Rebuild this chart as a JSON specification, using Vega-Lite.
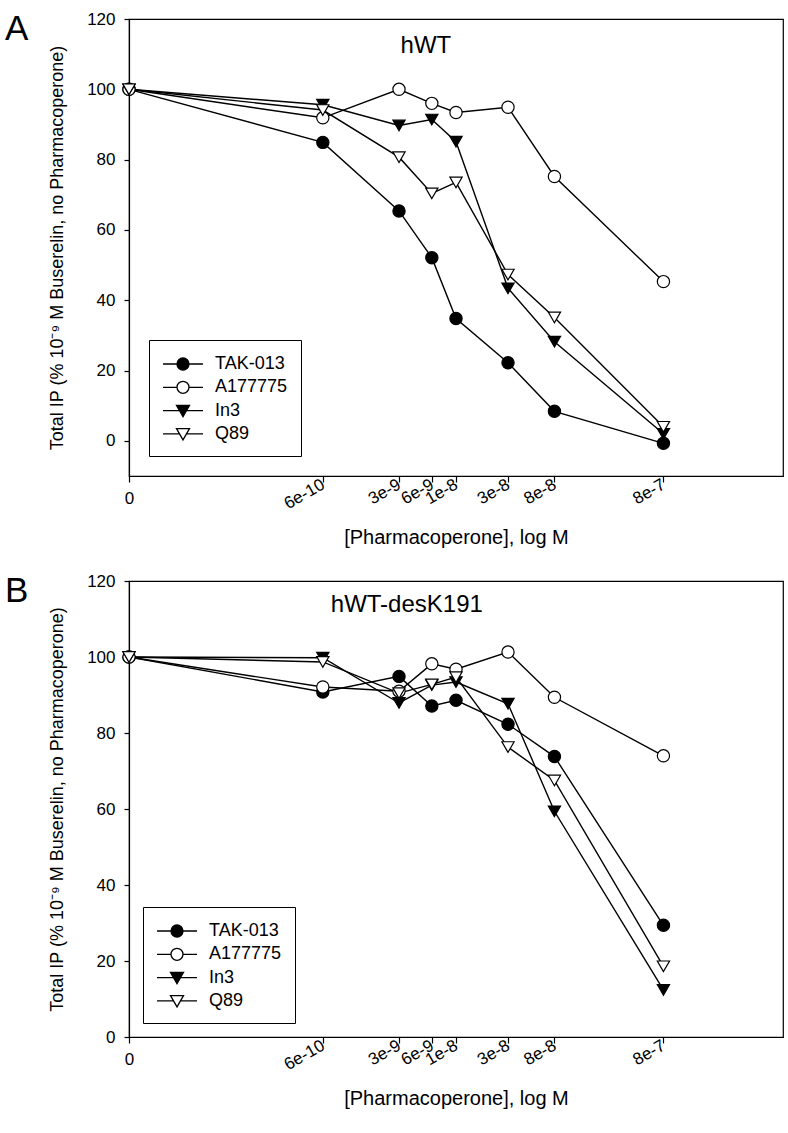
{
  "$schema": "https://vega.github.io/schema/vega-lite/v6.json",
  "padding": {"left": 4, "top": 9, "right": 5, "bottom": 5},
  "background": "white",
  "config": {
    "font": "Liberation Sans",
    "view": {"stroke": "black", "strokeWidth": 1.2},
    "axis": {"domainColor": "black", "tickColor": "black", "labelColor": "black", "titleColor": "black", "grid": false, "titleFontWeight": "normal", "domainWidth": 1.2, "tickWidth": 1.2},
    "title": {"fontWeight": "normal", "color": "black"},
    "concat": {"spacing": 22}
  },
  "datasets": {
    "hwt": [
      {"series": "TAK-013", "conc": 1e-11, "value": 100},
      {"series": "TAK-013", "conc": 6e-10, "value": 84.9},
      {"series": "TAK-013", "conc": 3e-9, "value": 65.4},
      {"series": "TAK-013", "conc": 6e-9, "value": 52.1},
      {"series": "TAK-013", "conc": 1e-8, "value": 34.8},
      {"series": "TAK-013", "conc": 3e-8, "value": 22.2},
      {"series": "TAK-013", "conc": 8e-8, "value": 8.4},
      {"series": "TAK-013", "conc": 8e-7, "value": -0.7},
      {"series": "A177775", "conc": 1e-11, "value": 100},
      {"series": "A177775", "conc": 6e-10, "value": 91.9},
      {"series": "A177775", "conc": 3e-9, "value": 100.0},
      {"series": "A177775", "conc": 6e-9, "value": 96.0},
      {"series": "A177775", "conc": 1e-8, "value": 93.4},
      {"series": "A177775", "conc": 3e-8, "value": 94.9},
      {"series": "A177775", "conc": 8e-8, "value": 75.2},
      {"series": "A177775", "conc": 8e-7, "value": 45.3},
      {"series": "In3", "conc": 1e-11, "value": 100},
      {"series": "In3", "conc": 6e-10, "value": 95.6},
      {"series": "In3", "conc": 3e-9, "value": 89.7},
      {"series": "In3", "conc": 6e-9, "value": 91.4},
      {"series": "In3", "conc": 1e-8, "value": 85.1},
      {"series": "In3", "conc": 3e-8, "value": 43.4},
      {"series": "In3", "conc": 8e-8, "value": 28.2},
      {"series": "In3", "conc": 8e-7, "value": 2.0},
      {"series": "Q89", "conc": 1e-11, "value": 100},
      {"series": "Q89", "conc": 6e-10, "value": 94.1},
      {"series": "Q89", "conc": 3e-9, "value": 80.7},
      {"series": "Q89", "conc": 6e-9, "value": 70.4},
      {"series": "Q89", "conc": 1e-8, "value": 73.5},
      {"series": "Q89", "conc": 3e-8, "value": 47.3},
      {"series": "Q89", "conc": 8e-8, "value": 35.1},
      {"series": "Q89", "conc": 8e-7, "value": 4.0}
    ],
    "desk": [
      {"series": "TAK-013", "conc": 1e-11, "value": 100},
      {"series": "TAK-013", "conc": 6e-10, "value": 90.8},
      {"series": "TAK-013", "conc": 3e-9, "value": 94.9},
      {"series": "TAK-013", "conc": 6e-9, "value": 87.1},
      {"series": "TAK-013", "conc": 1e-8, "value": 88.6},
      {"series": "TAK-013", "conc": 3e-8, "value": 82.3},
      {"series": "TAK-013", "conc": 8e-8, "value": 73.8},
      {"series": "TAK-013", "conc": 8e-7, "value": 29.4},
      {"series": "A177775", "conc": 1e-11, "value": 100},
      {"series": "A177775", "conc": 6e-10, "value": 92.1},
      {"series": "A177775", "conc": 3e-9, "value": 91.0},
      {"series": "A177775", "conc": 6e-9, "value": 98.2},
      {"series": "A177775", "conc": 1e-8, "value": 96.8},
      {"series": "A177775", "conc": 3e-8, "value": 101.3},
      {"series": "A177775", "conc": 8e-8, "value": 89.4},
      {"series": "A177775", "conc": 8e-7, "value": 74.0},
      {"series": "In3", "conc": 1e-11, "value": 100},
      {"series": "In3", "conc": 6e-10, "value": 99.8},
      {"series": "In3", "conc": 3e-9, "value": 87.9},
      {"series": "In3", "conc": 6e-9, "value": 92.6},
      {"series": "In3", "conc": 1e-8, "value": 93.4},
      {"series": "In3", "conc": 3e-8, "value": 87.7},
      {"series": "In3", "conc": 8e-8, "value": 59.4},
      {"series": "In3", "conc": 8e-7, "value": 12.4},
      {"series": "Q89", "conc": 1e-11, "value": 100},
      {"series": "Q89", "conc": 6e-10, "value": 98.7},
      {"series": "Q89", "conc": 3e-9, "value": 90.5},
      {"series": "Q89", "conc": 6e-9, "value": 92.8},
      {"series": "Q89", "conc": 1e-8, "value": 94.7},
      {"series": "Q89", "conc": 3e-8, "value": 76.3},
      {"series": "Q89", "conc": 8e-8, "value": 67.5},
      {"series": "Q89", "conc": 8e-7, "value": 18.6}
    ]
  },
  "resolve": {
    "scale": {"x": "independent", "y": "independent", "shape": "independent", "fill": "independent"},
    "legend": {"shape": "independent", "fill": "independent"}
  },
  "vconcat": [
    {
      "width": 654,
      "height": 457,
      "title": {"text": "A", "anchor": "start", "frame": "group", "fontSize": 35, "baseline": "top", "offset": -37, "dx": -124},
      "layer": [
        {
          "data": {"name": "hwt"},
          "mark": {"type": "line", "color": "black", "strokeWidth": 1.4},
          "encoding": {
            "x": {
              "field": "conc", "type": "quantitative",
              "scale": {"type": "log", "domain": [1e-11, 1e-5], "nice": false},
              "axis": {
                "title": "[Pharmacoperone], log M",
                "values": [1e-11, 6e-10, 3e-9, 6e-9, 1e-8, 3e-8, 8e-8, 8e-7],
                "labelExpr": "datum.value < 1e-10 ? '0' : format(datum.value, '.0e')",
                "labelAngle": -30, "labelAlign": "right", "labelBaseline": "middle",
                "labelFlush": false, "labelOverlap": false,
                "tickSize": 6, "labelPadding": 1, "labelFontSize": 17,
                "titleFontSize": 20, "titlePadding": 16,
                "encoding": {"labels": {
                  "angle": {"condition": {"test": "datum.value < 1e-10", "value": 0}, "value": -30},
                  "align": {"condition": {"test": "datum.value < 1e-10", "value": "center"}, "value": "right"},
                  "dy": {"condition": {"test": "datum.value < 1e-10", "value": 15}, "value": 0}
                }}
              }
            },
            "y": {
              "field": "value", "type": "quantitative",
              "scale": {"domain": [-10, 120], "nice": false, "zero": false},
              "axis": {
                "title": "Total IP (% 10⁻⁹ M Buserelin, no Pharmacoperone)",
                "values": [0, 20, 40, 60, 80, 100, 120],
                "tickSize": 5, "labelFontSize": 17, "labelPadding": 9,
                "titleFontSize": 18, "titlePadding": 20
              }
            },
            "detail": {"field": "series", "type": "nominal"}
          }
        },
        {
          "data": {"name": "hwt"},
          "mark": {"type": "point", "filled": true, "opacity": 1, "stroke": "black", "strokeWidth": 1.2, "size": 150},
          "encoding": {
            "x": {"field": "conc", "type": "quantitative"},
            "y": {"field": "value", "type": "quantitative"},
            "shape": {
              "field": "series", "type": "nominal",
              "scale": {"domain": ["TAK-013", "A177775", "In3", "Q89", "_"], "range": ["circle", "circle", "triangle-down", "triangle-down", "circle"]},
              "legend": null
            },
            "fill": {
              "field": "series", "type": "nominal",
              "scale": {"domain": ["TAK-013", "A177775", "In3", "Q89"], "range": ["black", "white", "black", "white"]},
              "legend": {
                "title": null, "orient": "bottom-left", "offset": 20, "padding": 13, "symbolOffset": 10,
                "strokeColor": "black", "fillColor": "white",
                "labelFontSize": 18, "labelOffset": 21, "rowPadding": 3.3,
                "symbolSize": 400, "symbolStrokeWidth": 1.3, "symbolStrokeColor": "black",
                "encoding": {"symbols": {
                  "shape": {"condition": {"test": "datum.value === 'TAK-013' || datum.value === 'A177775'", "value": "M-2,0H-0.6M0.6,0H2M-0.6,0A0.6,0.6,0,1,1,0.6,0A0.6,0.6,0,1,1,-0.6,0Z"}, "value": "M-2,0H-0.35M0.35,0H2M-0.65,-0.52L0.65,-0.52L0,0.6Z"},
                  "fill": {"condition": {"test": "datum.value === 'TAK-013' || datum.value === 'In3'", "value": "black"}, "value": "white"},
                  "stroke": {"value": "black"}
                }}
              }
            }
          }
        },
        {
          "data": {"values": [{"label": "hWT"}]},
          "mark": {"type": "text", "align": "left", "baseline": "alphabetic", "fontSize": 24, "color": "black"},
          "encoding": {
            "x": {"datum": 3.1e-9, "type": "quantitative"},
            "y": {"datum": 110.2, "type": "quantitative"},
            "text": {"field": "label", "type": "nominal"}
          }
        }
      ]
    },
    {
      "width": 654,
      "height": 456,
      "title": {"text": "B", "anchor": "start", "frame": "group", "fontSize": 35, "baseline": "top", "offset": -37, "dx": -124},
      "layer": [
        {
          "data": {"name": "desk"},
          "mark": {"type": "line", "color": "black", "strokeWidth": 1.4},
          "encoding": {
            "x": {
              "field": "conc", "type": "quantitative",
              "scale": {"type": "log", "domain": [1e-11, 1e-5], "nice": false},
              "axis": {
                "title": "[Pharmacoperone], log M",
                "values": [1e-11, 6e-10, 3e-9, 6e-9, 1e-8, 3e-8, 8e-8, 8e-7],
                "labelExpr": "datum.value < 1e-10 ? '0' : format(datum.value, '.0e')",
                "labelAngle": -30, "labelAlign": "right", "labelBaseline": "middle",
                "labelFlush": false, "labelOverlap": false,
                "tickSize": 6, "labelPadding": 1, "labelFontSize": 17,
                "titleFontSize": 20, "titlePadding": 16,
                "encoding": {"labels": {
                  "angle": {"condition": {"test": "datum.value < 1e-10", "value": 0}, "value": -30},
                  "align": {"condition": {"test": "datum.value < 1e-10", "value": "center"}, "value": "right"},
                  "dy": {"condition": {"test": "datum.value < 1e-10", "value": 15}, "value": 0}
                }}
              }
            },
            "y": {
              "field": "value", "type": "quantitative",
              "scale": {"domain": [0, 120], "nice": false, "zero": false},
              "axis": {
                "title": "Total IP (% 10⁻⁹ M Buserelin, no Pharmacoperone)",
                "values": [0, 20, 40, 60, 80, 100, 120],
                "tickSize": 5, "labelFontSize": 17, "labelPadding": 9,
                "titleFontSize": 18, "titlePadding": 20
              }
            },
            "detail": {"field": "series", "type": "nominal"}
          }
        },
        {
          "data": {"name": "desk"},
          "mark": {"type": "point", "filled": true, "opacity": 1, "stroke": "black", "strokeWidth": 1.2, "size": 150},
          "encoding": {
            "x": {"field": "conc", "type": "quantitative"},
            "y": {"field": "value", "type": "quantitative"},
            "shape": {
              "field": "series", "type": "nominal",
              "scale": {"domain": ["TAK-013", "A177775", "In3", "Q89", "_"], "range": ["circle", "circle", "triangle-down", "triangle-down", "circle"]},
              "legend": null
            },
            "fill": {
              "field": "series", "type": "nominal",
              "scale": {"domain": ["TAK-013", "A177775", "In3", "Q89"], "range": ["black", "white", "black", "white"]},
              "legend": {
                "title": null, "orient": "bottom-left", "offset": 14, "padding": 13, "symbolOffset": 10,
                "strokeColor": "black", "fillColor": "white",
                "labelFontSize": 18, "labelOffset": 21, "rowPadding": 3.3,
                "symbolSize": 400, "symbolStrokeWidth": 1.3, "symbolStrokeColor": "black",
                "encoding": {"symbols": {
                  "shape": {"condition": {"test": "datum.value === 'TAK-013' || datum.value === 'A177775'", "value": "M-2,0H-0.6M0.6,0H2M-0.6,0A0.6,0.6,0,1,1,0.6,0A0.6,0.6,0,1,1,-0.6,0Z"}, "value": "M-2,0H-0.35M0.35,0H2M-0.65,-0.52L0.65,-0.52L0,0.6Z"},
                  "fill": {"condition": {"test": "datum.value === 'TAK-013' || datum.value === 'In3'", "value": "black"}, "value": "white"},
                  "stroke": {"value": "black"}
                }}
              }
            }
          }
        },
        {
          "data": {"values": [{"label": "hWT-desK191"}]},
          "mark": {"type": "text", "align": "left", "baseline": "alphabetic", "fontSize": 24, "color": "black"},
          "encoding": {
            "x": {"datum": 7.1e-10, "type": "quantitative"},
            "y": {"datum": 111.8, "type": "quantitative"},
            "text": {"field": "label", "type": "nominal"}
          }
        }
      ]
    }
  ]
}
